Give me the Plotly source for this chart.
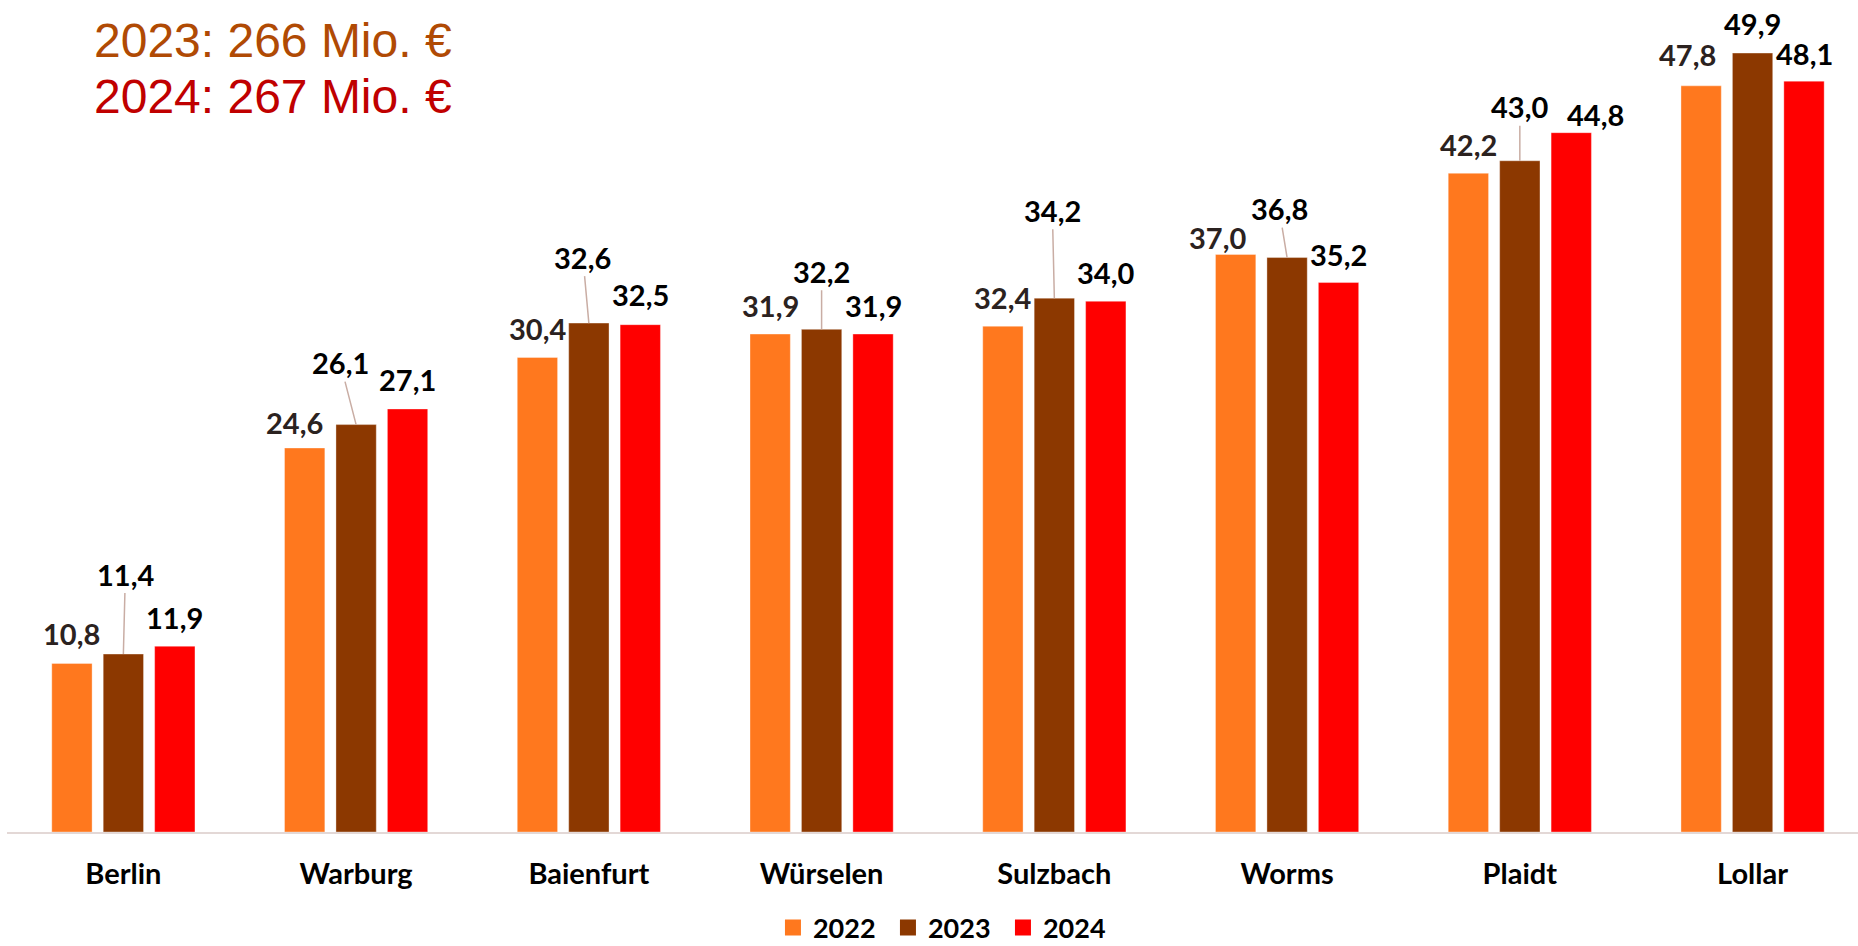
import plotly.graph_objects as go

# ---------------- data ----------------
categories = ["Berlin", "Warburg", "Baienfurt", "Würselen", "Sulzbach", "Worms", "Plaidt", "Lollar"]
years = ["2022", "2023", "2024"]
values_2022 = [10.8, 24.6, 30.4, 31.9, 32.4, 37.0, 42.2, 47.8]
values_2023 = [11.4, 26.1, 32.6, 32.2, 34.2, 36.8, 43.0, 49.9]
values_2024 = [11.9, 27.1, 32.5, 31.9, 34.0, 35.2, 44.8, 48.1]
totals = [("2023", 266), ("2024", 267)]

# ---------------- style ----------------
W, H = 1858, 946
ML, MR, MT, MB = 7, 0, 0, 114
X_RANGE = [-0.5, 7.453]
Y_RANGE = [0, 53.3]
BARGAP = 0.337
BARGROUPGAP = 0.216
COLORS = {"2022": "#FF781E", "2023": "#8C3800", "2024": "#FF0000"}
LABEL_COLORS = {"2022": "#2B2220", "2023": "#000000", "2024": "#000000"}
FONT = "Lato"
LABEL_SIZE = 29
LEGEND_CENTER_PX = 928

plot_w = W - ML - MR
plot_h = H - MT - MB
cat_px = plot_w / (X_RANGE[1] - X_RANGE[0])
pitch = cat_px * (1 - BARGAP) / 3

# label offsets (dx, dy) in px of label centre relative to bar-top centre
off_2022 = [(0, -30), (-10, -26), (0, -29), (0, -29), (0, -29), (-18, -17), (0, -29), (-14, -31)]
off_2023 = [(2, -80), (-16, -62), (-6, -66), (0, -58), (-2, -88), (-8, -49), (0, -54), (0, -30)]
off_2024 = [(0, -29), (0, -29), (0, -30), (0, -29), (0, -29), (0, -28), (24, -18), (0, -28)]
leader = [True, True, True, True, True, True, True, False]

fig = go.Figure()
series = {"2022": values_2022, "2023": values_2023, "2024": values_2024}
for yr in years:
    fig.add_trace(go.Bar(
        x=categories, y=series[yr], name=yr,
        marker=dict(color=COLORS[yr], line=dict(color="rgba(255,255,255,0.35)", width=1)),
        showlegend=False, hoverinfo="x+y",
    ))
    # legend proxy with larger square symbol
    fig.add_trace(go.Scatter(
        x=[None], y=[None], mode="markers", name=yr,
        marker=dict(symbol="square", size=18, color=COLORS[yr]),
        showlegend=True, hoverinfo="skip",
    ))

def fmt(v):
    return f"{v:.1f}".replace(".", ",")

def label_font(yr):
    return dict(family=FONT, size=LABEL_SIZE, color=LABEL_COLORS[yr], weight="bold")

annotations = []
for i, cat in enumerate(categories):
    dx, dy = off_2022[i]
    annotations.append(dict(
        x=cat, y=values_2022[i], xref="x", yref="y", text=fmt(values_2022[i]),
        showarrow=False, xshift=-pitch + dx, yshift=-dy,
        xanchor="center", yanchor="middle", font=label_font("2022"),
    ))
    dx, dy = off_2024[i]
    annotations.append(dict(
        x=cat, y=values_2024[i], xref="x", yref="y", text=fmt(values_2024[i]),
        showarrow=False, xshift=pitch + dx, yshift=-dy,
        xanchor="center", yanchor="middle", font=label_font("2024"),
    ))
    dx, dy = off_2023[i]
    if leader[i]:
        annotations.append(dict(
            x=cat, y=values_2023[i], xref="x", yref="y", text=fmt(values_2023[i]),
            showarrow=True, ax=dx, ay=dy, axref="pixel", ayref="pixel",
            arrowhead=0, arrowwidth=1.5, arrowcolor="#C9ADA4", standoff=0,
            font=label_font("2023"),
        ))
    else:
        annotations.append(dict(
            x=cat, y=values_2023[i], xref="x", yref="y", text=fmt(values_2023[i]),
            showarrow=False, xshift=dx, yshift=-dy,
            xanchor="center", yanchor="middle", font=label_font("2023"),
        ))

title_colors = {"2023": "#B04A04", "2024": "#C00000"}
title_y = {"2023": 40, "2024": 97}
for yr, tot in totals:
    annotations.append(dict(
        x=(92 - ML) / plot_w, y=1 - title_y[yr] / plot_h, xref="paper", yref="paper",
        text=f"{yr}: {tot} Mio. €", showarrow=False, xanchor="left", yanchor="middle",
        font=dict(family="Liberation Sans, Arial", size=48, color=title_colors[yr]),
    ))

fig.update_layout(
    width=W, height=H,
    margin=dict(l=ML, r=MR, t=MT, b=MB, autoexpand=False),
    paper_bgcolor="white", plot_bgcolor="white",
    barmode="group", bargap=BARGAP, bargroupgap=BARGROUPGAP,
    annotations=annotations,
    showlegend=True,
    legend=dict(
        orientation="h", x=0.507, xanchor="center",
        y=-(LEGEND_CENTER_PX - (H - MB)) / plot_h, yanchor="middle",
        font=dict(family=FONT, size=27, color="#000000", weight="bold"),
        itemsizing="trace", traceorder="normal",
        entrywidth=70, entrywidthmode="pixels",
    ),
    xaxis=dict(
        type="category", range=X_RANGE, showgrid=False, zeroline=False,
        showline=True, linecolor="#E3D8D6", linewidth=2,
        ticks="", ticklabelstandoff=15,
        tickfont=dict(family=FONT, size=29, color="#000000", weight="bold"),
    ),
    yaxis=dict(range=Y_RANGE, visible=False, showgrid=False, zeroline=False),
)

# remove the browser's default page margin so the figure sits at the top-left corner
fig.write_html(
    "out.html",
    config={"displayModeBar": False},
    post_script="document.body.style.margin='0';document.body.style.overflow='hidden';",
)
